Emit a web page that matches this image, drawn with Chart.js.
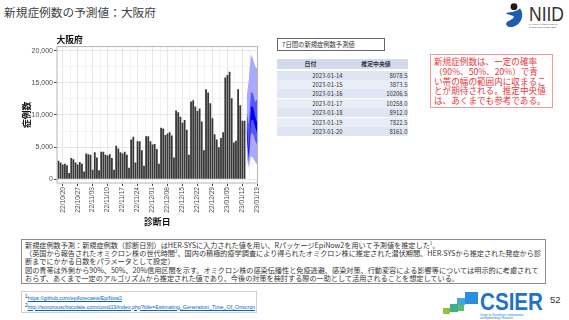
<!DOCTYPE html>
<html>
<head>
<meta charset="utf-8">
<script src="https://cdn.jsdelivr.net/npm/chart.js@4.4.0/dist/chart.umd.min.js"></script>
<style>
html,body{margin:0;padding:0;background:#fff}
body{width:569px;height:320px;position:relative;overflow:hidden;font-family:"Noto Sans CJK JP","Noto Sans",sans-serif;color:#333}
.abs{position:absolute}
#title{left:4px;top:4px;font-size:11.7px;line-height:16px;color:#404040}
#chartBox{left:20px;top:30px;width:250px;height:200px}
#tblCap{left:277px;top:38px;width:102px;height:11px;border:1px solid #666;font-size:6.3px;line-height:11px;padding-left:4px;box-sizing:content-box;color:#333}
.row{position:absolute;left:277px;width:131px;height:9px;font-size:5.9px;line-height:9px;color:#333}
.row span{position:absolute;top:0}
#note{left:430px;top:54px;width:115px;height:48px;border:1px solid #f19a9a;color:#e8383d;font-size:8.6px;line-height:9.8px;padding:2px 3px;white-space:nowrap}
#memo{left:21px;top:239px;width:517px;height:41px;border:1px solid #8c8c8c;font-size:7.15px;line-height:8.2px;padding:1px 3px;white-space:nowrap;color:#333}
#memo sup,#refs sup{font-size:4.5px;vertical-align:top;line-height:5px}
#refs{left:21px;top:291px;width:236px;height:22px;border:1px solid #d0d0d0;font-family:"Liberation Sans",Arial,sans-serif;font-size:5.3px;line-height:8.5px;padding:2px 3px;white-space:nowrap;box-sizing:border-box}
#refs a{color:#0563c1;text-decoration:underline}
#page{left:550px;top:294px;font-family:"Liberation Sans",Arial,sans-serif;font-size:9.5px;color:#333}
</style>
</head>
<body>
<div id="title" class="abs">新規症例数の予測値：大阪府</div>

<svg class="abs" style="left:503px;top:2px" width="64" height="28">
  <circle cx="11" cy="4.7" r="3.4" fill="#231815"/>
  <path d="M3,11 C8,10 13,10 17,6.5 C21,11 20,21 11,24.5 C6,26 2,24 3.5,20.5 C5.5,18 9.5,18.5 11,14.5 C8.5,13 5,13 3,11 Z" fill="#1d5fae"/>
  <text x="26" y="18.7" font-family="Liberation Sans Narrow, Liberation Sans, sans-serif" font-size="21" fill="#333" textLength="35" lengthAdjust="spacingAndGlyphs">NIID</text>
  <text x="26" y="22.5" font-family="Liberation Sans, sans-serif" font-size="2.4" fill="#555">NATIONAL INSTITUTE OF</text>
  <text x="26" y="25.5" font-family="Liberation Sans, sans-serif" font-size="2.4" fill="#555">INFECTIOUS DISEASES</text>
</svg>

<div id="chartBox" class="abs"><canvas id="chart" width="250" height="200"></canvas></div>

<div id="tblCap" class="abs">7日間の新規症例数予測値</div>
<div id="tbl"></div>

<div id="note" class="abs">新規症例数は、一定の確率<br>（90%、50%、20%）で青<br>い帯の幅の範囲内に収まるこ<br>とが期待される。推定中央値<br>は、あくまでも参考である。</div>

<div id="memo" class="abs">新規症例数予測：新規症例数（診断日別）はHER-SYSに入力された値を用い、RパッケージEpiNow2を用いて予測値を推定した<sup>1</sup>。<br>（英国から報告されたオミクロン株の世代時間<sup>2</sup>、国内の積極的疫学調査により得られたオミクロン株に推定された潜伏期間、HER-SYSから推定された発症から診<br>断までにかかる日数をパラメータとして設定）<br>図の青帯は外側から90%、50%、20%信用区間を示す。オミクロン株の感染伝播性と免疫逃避、感染対策、行動変容による影響等については明示的に考慮されて<br>おらず、あくまで一定のアルゴリズムから推定された値であり、今後の対策を検討する際の一助として活用されることを想定している。</div>

<div id="refs" class="abs"><sup>1</sup><a>https://github.com/epiforecasts/EpiNow2</a><br><sup>2</sup><a>http://sonorouschocolate.com/covid19/index.php?title=Estimating_Generation_Time_Of_Omicron</a></div>

<svg class="abs" style="left:440px;top:288px" width="108" height="32">
  <rect x="25" y="4" width="13" height="12" fill="#2a8fe0"/>
  <rect x="17" y="10" width="8" height="7" fill="#41a9d8"/>
  <rect x="10" y="16" width="8" height="8" fill="#3fae8a"/>
  <rect x="18" y="17" width="6" height="6" fill="#62bb6b"/>
  <rect x="3" y="20" width="7" height="6" fill="#8cc63f"/>
  <text x="40" y="22" font-family="Liberation Sans, sans-serif" font-weight="bold" font-size="23" fill="#1f74c8" textLength="63" lengthAdjust="spacingAndGlyphs">CSIER</text>
  <text x="40" y="27.5" font-family="Liberation Sans, sans-serif" font-size="2.6" fill="#1f74c8">Center for Surveillance, Immunization,</text>
  <text x="40" y="30.5" font-family="Liberation Sans, sans-serif" font-size="2.6" fill="#1f74c8">and Epidemiologic Research</text>
</svg>
<div id="page" class="abs">52</div>

<script>
// daily cases by diagnosis date, from 2022-10-18 to 2023-01-13
var caseStart = '2022-10-18';
var cases = [
  2900, 2600, 2300, 2400, 2200, 1000,
  3300, 3100, 2600, 2300, 2700, 2400, 1200,
  4000, 3900, 3800, 1500, 4200, 3400, 1400,
  4300, 4300, 3800, 3700, 3900, 3300, 1500,
  5200, 4800, 4200, 4000, 4300, 3800, 1800,
  6200, 6600, 2600, 5900, 5900, 4500, 2100,
  6700, 6700, 5900, 5400, 5500, 4700, 2400,
  8000, 7900, 6900, 7100, 7300, 6800, 3400,
  10700, 10400, 9700, 8800, 9200, 7700, 3800,
  12100, 12300, 11300, 10600, 11000, 9000, 4500,
  14000, 13500, 11800, 9500, 7000, 6200, 5000,
  6400, 7300, 15800, 16200, 16700, 12600, 5700,
  6000, 14000, 11500, 9100, 9100
];

// 7 day forecast
var fcDates  = ['2023-01-14','2023-01-15','2023-01-16','2023-01-17','2023-01-18','2023-01-19','2023-01-20'];
var fcMedian = [8078.5, 3873.5, 10206.5, 10258.0, 8912.0, 7822.5, 8161.0];
var ci90Hi = [12800, 15500, 19400, 18700, 17500, 17200, 17400];
var ci90Lo = [3500, 1800, 3600, 3300, 2700, 2300, 2100];
var ci50Hi = [10500, 8500, 13600, 13300, 12000, 12500, 12300];
var ci50Lo = [6000, 2700, 7200, 7000, 6000, 5300, 5200];
var ci20Hi = [8800, 4400, 11300, 11200, 9700, 8700, 9000];
var ci20Lo = [7400, 3400, 9100, 9300, 8100, 7000, 7300];

var xTickLabels = ['22/10/20','22/10/27','22/11/03','22/11/10','22/11/17','22/11/24','22/12/01',
                   '22/12/08','22/12/15','22/12/22','22/12/29','23/01/05','23/01/12','23/01/19'];
var yTicks = [0, 5000, 10000, 15000, 20000];

// day number counted from 2022-10-20
var day0 = Date.UTC(2022, 9, 20);
function dayOf(s) {
  var p = s.indexOf('-') >= 0 ? s.split('-') : s.split('/');
  var y = +p[0]; if (y < 100) y += 2000;
  return Math.round((Date.UTC(y, p[1] - 1, +p[2]) - day0) / 864e5);
}

// table
var tbl = document.getElementById('tbl');
var html = '<div class="row" style="top:59px;height:10px;line-height:10px;background:#d3daed;font-weight:bold">' +
  '<span style="left:0;width:67px;text-align:center">日付</span>' +
  '<span style="left:67px;width:64px;text-align:center">推定中央値</span></div>';
fcDates.forEach(function (d, i) {
  var top = 70.5 + i * 9.4;
  html += '<div class="row" style="top:' + top + 'px;background:' + (i % 2 ? '#e9edf6' : '#dfe5f2') + '">' +
    '<span style="left:0;width:65.5px;text-align:right">' + d + '</span>' +
    '<span style="left:67px;width:63.5px;text-align:right">' + fcMedian[i].toFixed(1) + '</span></div>';
});
tbl.innerHTML = html;

var startX = dayOf(caseStart);
var barData = cases.map(function (v, i) { return {x: startX + i, y: v}; });
function band(arr) { return arr.map(function (v, i) { return {x: dayOf(fcDates[i]), y: v}; }); }

var xMin = -2.9, xMax = 91.3;

var panelBorder = {
  id: 'panelBorder',
  afterDraw: function (c) {
    var a = c.chartArea, ctx = c.ctx;
    ctx.save();
    ctx.strokeStyle = '#b5b5b5';
    ctx.lineWidth = 1;
    ctx.strokeRect(a.left + 0.5, a.top + 0.5, a.right - a.left - 1, a.bottom - a.top - 1);
    ctx.restore();
  }
};

function bandSet(data, color, fill, order) {
  return {type: 'line', data: data, borderWidth: 0, pointRadius: 0, tension: 0,
          backgroundColor: color, borderColor: color, fill: fill, order: order};
}

new Chart(document.getElementById('chart'), {
  type: 'bar',
  data: {
    datasets: [
      bandSet(band(ci90Hi), '#a9a9ff', '+1', 3),
      bandSet(band(ci90Lo), '#a9a9ff', false, 3),
      bandSet(band(ci50Hi), '#5757ff', '+1', 2),
      bandSet(band(ci50Lo), '#5757ff', false, 2),
      bandSet(band(ci20Hi), '#0000f0', '+1', 1),
      bandSet(band(ci20Lo), '#0000f0', false, 1),
      {type: 'bar', data: barData, backgroundColor: '#383838', borderWidth: 0,
       barPercentage: 0.84, categoryPercentage: 1, order: 4}
    ]
  },
  options: {
    responsive: false,
    animation: false,
    devicePixelRatio: 1,
    layout: {padding: {left: 0, right: 12, top: 0, bottom: 0}},
    plugins: {
      legend: {display: false},
      tooltip: {enabled: false},
      title: {
        display: true, text: '大阪府', align: 'start', fullSize: false, color: '#111',
        font: {family: 'Noto Sans CJK JP', size: 8.8, weight: 'bold'},
        padding: {top: 4.5, bottom: 1}
      }
    },
    scales: {
      x: {
        type: 'linear', min: xMin, max: xMax, offset: false,
        grid: {
          offset: false,
          color: function (c) { return c.tick && c.tick.mj ? '#e6e6e6' : '#f3f3f3'; },
          tickColor: function (c) { return c.tick && c.tick.mj ? '#444' : 'rgba(0,0,0,0)'; },
          tickLength: 2.5
        },
        border: {display: false},
        afterBuildTicks: function (s) {
          var t = [];
          xTickLabels.forEach(function (lb) {
            var d = dayOf(lb);
            if (d >= xMin && d <= xMax) t.push({value: d, mj: true, lbl: lb});
            if (d + 3.5 <= xMax) t.push({value: d + 3.5, mj: false, lbl: ''});
          });
          t.sort(function (a, b) { return a.value - b.value; });
          s.ticks = t;
        },
        afterFit: function (s) { s.height = 46.5; },
        ticks: {
          autoSkip: false, minRotation: 90, maxRotation: 90, padding: 1, color: '#4d4d4d',
          font: {family: 'Liberation Sans', size: 6.6},
          callback: function (v, i, t) { return t[i].lbl; }
        },
        title: {
          display: true, text: '診断日', color: '#111',
          font: {family: 'Noto Sans CJK JP', size: 8.8, weight: 'bold'},
          padding: {top: 0, bottom: 3}
        }
      },
      y: {
        min: -650, max: 20700,
        grid: {
          color: function (c) { return c.tick && c.tick.mj ? '#e6e6e6' : '#f3f3f3'; },
          tickColor: function (c) { return c.tick && c.tick.mj ? '#444' : 'rgba(0,0,0,0)'; },
          tickLength: 2.5
        },
        border: {display: false},
        afterBuildTicks: function (s) {
          var t = [];
          yTicks.forEach(function (v, i) {
            t.push({value: v, mj: true});
            if (i < yTicks.length - 1) t.push({value: (v + yTicks[i + 1]) / 2, mj: false});
          });
          s.ticks = t;
        },
        afterFit: function (s) { s.width = 36.5; },
        ticks: {
          padding: 1, color: '#4d4d4d',
          font: {family: 'Liberation Sans', size: 7},
          callback: function (v, i, t) { return t[i].mj ? v.toLocaleString('en-US') : ''; }
        },
        title: {
          display: true, text: '症例数', color: '#111',
          font: {family: 'Noto Sans CJK JP', size: 8.8, weight: 'bold'},
          padding: {top: 1, bottom: 0}
        }
      }
    }
  },
  plugins: [panelBorder]
});
</script>
</body>
</html>
